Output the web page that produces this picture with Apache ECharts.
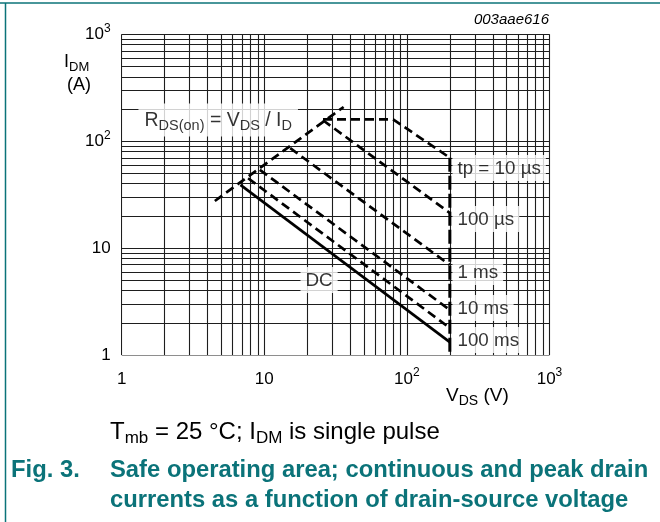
<!DOCTYPE html>
<html>
<head>
<meta charset="utf-8">
<script src="https://cdn.jsdelivr.net/npm/echarts@6/dist/echarts.min.js"></script>
<style>
html,body{margin:0;padding:0;background:#fff;}
#chart{width:660px;height:522px;}
</style>
</head>
<body>
<div id="chart"></div>
<script>
// ---- data (V_DS in volts, I_DM in amps) ----
const rdsV = [4.5, 36];
const rdsI = [27.6, 209];
const tp10usV = [25.8, 80, 200, 200];
const tp10usI = [160, 160, 70, 1];
const tp100usV = [25.8, 200];
const tp100usI = [157, 21.3];
const tp1msV = [15.2, 200];
const tp1msI = [86, 6.95];
const tp10msV = [9.3, 200];
const tp10msI = [54, 2.64];
const tp100msV = [7.7, 200];
const tp100msI = [45, 1.79];
const dcV = [6.8, 200];
const dcI = [39, 1.32];

// tick labels
const xTickValues = [1, 10, 100, 1000];
const xTickLabels = ['1', '10', '10{s|2}', '10{s|3}'];
const yTickValues = [1, 10, 100, 1000];
const yTickLabels = ['1', '10', '10{s|2}', '10{s|3}'];

// grid line multipliers within each decade
const gridMult = [1, 2, 3, 4, 5, 6, 7, 8, 9];
const gridDecades = [1, 10, 100];

// curve labels
const curveLabelText = ['tp = 10 µs', '100 µs', '1 ms', '10 ms', '100 ms', 'DC', 'R{sub|DS(on)} = V{sub|DS} / I{sub|D}'];
const curveLabelV = [207, 207, 207, 207, 207, 17.8, 1.30];
const curveLabelI = [56, 18.7, 5.98, 2.75, 1.38, 5.03, 158];

const FONT = 'Liberation Sans, Arial, Helvetica, sans-serif';
const TEAL = '#0b7379';

function pts(vs, is) { return vs.map((v, k) => [v, is[k]]); }

const gridVals = [];
gridDecades.forEach(d => gridMult.forEach(m => gridVals.push(d * m)));
gridVals.push(1000);

const gridSegs = [];
gridVals.forEach(v => {
  gridSegs.push({ coords: [[v, 1], [v, 1000]] });
  gridSegs.push({ coords: [[1, v], [1000, v]] });
});

function tickFmt(values, labels) {
  return function (v) {
    for (let k = 0; k < values.length; k++) {
      if (Math.abs(v - values[k]) / values[k] < 1e-6) return labels[k];
    }
    return '';
  };
}

const dashStyle = { color: '#000', width: 2.7, type: [9, 5], cap: 'butt' };

function curve(vs, is, style) {
  return {
    type: 'line', data: pts(vs, is), symbol: 'none', silent: true, z: 3,
    lineStyle: style || dashStyle, animation: false
  };
}

const chart = echarts.init(document.getElementById('chart'), null, { renderer: 'canvas' });

const option = {
  backgroundColor: '#fff',
  animation: false,
  textStyle: { fontFamily: FONT },
  grid: { left: 121.7, right: 110.5, top: 34.3, bottom: 167, containLabel: false },
  xAxis: {
    type: 'log', logBase: 10, min: 1, max: 1000,
    axisLine: { show: false },
    axisTick: { show: false },
    splitLine: { show: false },
    axisLabel: {
      margin: 12, color: '#000', fontSize: 17, fontFamily: FONT, lineHeight: 24,
      formatter: tickFmt(xTickValues, xTickLabels),
      rich: { s: { fontSize: 12, lineHeight: 14, verticalAlign: 'top', fontFamily: FONT, color: '#000' } }
    }
  },
  yAxis: {
    type: 'log', logBase: 10, min: 1, max: 1000,
    axisLine: { show: false },
    axisTick: { show: false },
    splitLine: { show: false },
    axisLabel: {
      margin: 11, color: '#000', fontSize: 17, fontFamily: FONT, lineHeight: 24,
      formatter: tickFmt(yTickValues, yTickLabels),
      rich: { s: { fontSize: 12, lineHeight: 14, verticalAlign: 'top', fontFamily: FONT, color: '#000' } }
    }
  },
  series: [
    {
      type: 'lines', coordinateSystem: 'cartesian2d', z: 1, silent: true,
      polyline: false, animation: false,
      lineStyle: { color: '#1e1e1e', width: 1.1, type: 'solid', opacity: 1 },
      data: gridSegs
    },
    curve(rdsV, rdsI),
    curve(tp10usV.slice(0, 3), tp10usI.slice(0, 3)),
    curve(tp10usV.slice(2), tp10usI.slice(2), { color: '#000', width: 3, type: [14, 4], cap: 'butt' }),
    curve(tp100usV, tp100usI),
    curve(tp1msV, tp1msI),
    curve(tp10msV, tp10msI),
    curve(tp100msV, tp100msI),
    curve(dcV, dcI, { color: '#000', width: 2.7, type: 'solid' }),
    {
      type: 'scatter', z: 5, silent: true, symbolSize: 1,
      itemStyle: { color: 'rgba(0,0,0,0)' },
      data: curveLabelText.map((t, k) => ({
        value: [curveLabelV[k], curveLabelI[k]],
        label: {
          show: true, position: 'right', distance: 0, formatter: t,
          color: '#000', fontSize: k === 6 ? 19.5 : 18.8, fontFamily: FONT,
          backgroundColor: '#fff',
          padding: k === 6 ? [5, 6, 3, 6] : [3, 5, 2, 5],
          lineHeight: k === 6 ? 25 : 21,
          rich: { sub: { fontSize: 14.5, lineHeight: 15, verticalAlign: 'bottom', fontFamily: FONT, color: '#000' } }
        }
      }))
    }
  ],
  graphic: [
    { type: 'line', shape: { x1: 0, y1: 3, x2: 660, y2: 3 }, style: { stroke: TEAL, lineWidth: 1.5 }, silent: true },
    { type: 'line', shape: { x1: 5.5, y1: 3, x2: 5.5, y2: 522 }, style: { stroke: TEAL, lineWidth: 1.5 }, silent: true },
    { type: 'text', style: { text: '003aae616', x: 549, y: 20, textAlign: 'right', textVerticalAlign: 'middle', font: 'italic 15px ' + FONT, fill: '#000' }, silent: true },
    { type: 'text', style: { rich: { a: { fontSize: 18, fontFamily: FONT, color: '#000', lineHeight: 24 }, b: { fontSize: 13, fontFamily: FONT, color: '#000', lineHeight: 14, verticalAlign: 'bottom' } }, text: '{a|I}{b|DM}', x: 64, y: 62, textVerticalAlign: 'middle' }, silent: true },
    { type: 'text', style: { text: '(A)', x: 79, y: 85, textAlign: 'center', textVerticalAlign: 'middle', font: '18px ' + FONT, fill: '#000' }, silent: true },
    { type: 'text', style: { rich: { a: { fontSize: 19, fontFamily: FONT, color: '#000', lineHeight: 24 }, b: { fontSize: 14, fontFamily: FONT, color: '#000', lineHeight: 14, verticalAlign: 'bottom' } }, text: '{a|V}{b|DS}{a| (V)}', x: 446, y: 396, textVerticalAlign: 'middle' }, silent: true },
    { type: 'text', style: { rich: { a: { fontSize: 24, fontFamily: FONT, color: '#000', lineHeight: 30 }, b: { fontSize: 17, fontFamily: FONT, color: '#000', lineHeight: 17, verticalAlign: 'bottom' } }, text: '{a|T}{b|mb}{a| = 25 °C; I}{b|DM}{a| is single pulse}', x: 110, y: 432, textVerticalAlign: 'middle' }, silent: true },
    { type: 'text', style: { text: 'Fig. 3.', x: 11, y: 470, textVerticalAlign: 'middle', font: 'bold 23.8px ' + FONT, fill: TEAL }, silent: true },
    { type: 'text', style: { text: 'Safe operating area; continuous and peak drain', x: 110, y: 470, textVerticalAlign: 'middle', font: 'bold 23.8px ' + FONT, fill: TEAL }, silent: true },
    { type: 'text', style: { text: 'currents as a function of drain-source voltage', x: 110, y: 500, textVerticalAlign: 'middle', font: 'bold 23.8px ' + FONT, fill: TEAL }, silent: true }
  ]
};

chart.setOption(option);
</script>
</body>
</html>
